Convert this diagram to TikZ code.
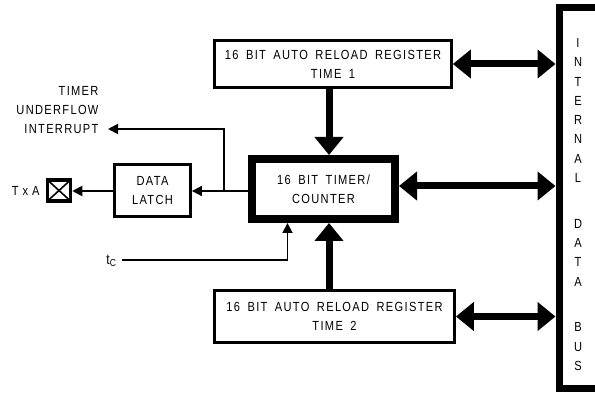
\documentclass[tikz,border=0pt]{standalone}
\usepackage{fontspec}
\setmainfont{Liberation Sans}[FakeStretch=0.84,LetterSpace=10,WordSpace=1.7]
\usetikzlibrary{arrows.meta}
\begin{document}
\begin{tikzpicture}[x=1pt, y=-1pt,
    every node/.style={font=\fontsize{13.2}{19}\selectfont},
    box/.style={draw, line width=2.8pt, rectangle, inner sep=0pt, align=center},
    bigarrow/.style={line width=7pt, {Triangle[width=28pt,length=18pt]}-{Triangle[width=28pt,length=18pt]}},
    downarrow/.style={line width=7pt, -{Triangle[width=28pt,length=18pt]}},
    thinarrow/.style={line width=1.8pt, -{Triangle[width=10pt,length=10pt]}}]
    \useasboundingbox (0,0) rectangle (595,393);
    % blocks
    \node[box, minimum width=237, minimum height=47] (reg1) at (333,64) {16 BIT AUTO RELOAD REGISTER\\TIME 1};
    \node[box, minimum width=240, minimum height=52] (reg2) at (334.5,316.5) {16 BIT AUTO RELOAD REGISTER\\TIME 2};
    \node[box, line width=8pt, minimum width=143, minimum height=60] (timer) at (323.5,189) {16 BIT TIMER/\\COUNTER};
    \node[box, minimum width=76, minimum height=52] (latch) at (152.5,190.5) {DATA\\LATCH};
    \node[box, line width=3.5pt, minimum width=23, minimum height=21,
        path picture={\draw[line width=1.6pt] (path picture bounding box.north west) -- (path picture bounding box.south east)
            (path picture bounding box.south west) -- (path picture bounding box.north east);}] (txa) at (59,190.5) {};
    \node[draw, line width=7pt, minimum width=60, minimum height=380] (bus) at (589,198) {};
    % labels
    \node[anchor=east] (txalbl) at (43,191) {T\hspace{4pt}x\hspace{4pt}A};
    \node[align=right, anchor=east] (intlbl) at (102,110) {TIMER\\UNDERFLOW\\INTERRUPT};
    \node[anchor=east, font=\fontsize{14.5}{19}\selectfont] (tclbl) at (120,261) {t\textsubscript{C}};
    \node[align=center, font=\fontsize{13.2}{19.3}\selectfont] (buslbl) at (578,204.5)
        {I\\N\\T\\E\\R\\N\\A\\L\\[26.4pt]D\\A\\T\\A\\[26.4pt]B\\U\\S};
    % bus connections
    \draw[bigarrow] (reg1.east) -- (reg1.east -| bus.west);
    \draw[bigarrow] ([yshift=3]timer.east) -- ([yshift=3]timer.east -| bus.west);
    \draw[bigarrow] (reg2.east) -- (reg2.east -| bus.west);
    \draw[downarrow] ([xshift=-4]reg1.south) -- ([xshift=5.5]timer.north);
    \draw[downarrow] ([xshift=-5.5]reg2.north) -- ([xshift=5.5]timer.south);
    % thin signals
    \coordinate (branch) at (224,191);
    \coordinate (intend) at (108,129);
    \coordinate (tcin) at (122,260);
    \draw[thinarrow] (timer.west |- branch) -- (latch.east |- branch);
    \draw[thinarrow] (branch) |- (intend);
    \draw[thinarrow] (latch.west |- branch) -- (txa.east |- branch);
    \draw[thinarrow] (tcin) -| ([xshift=-36]timer.south);
\end{tikzpicture}
\end{document}
